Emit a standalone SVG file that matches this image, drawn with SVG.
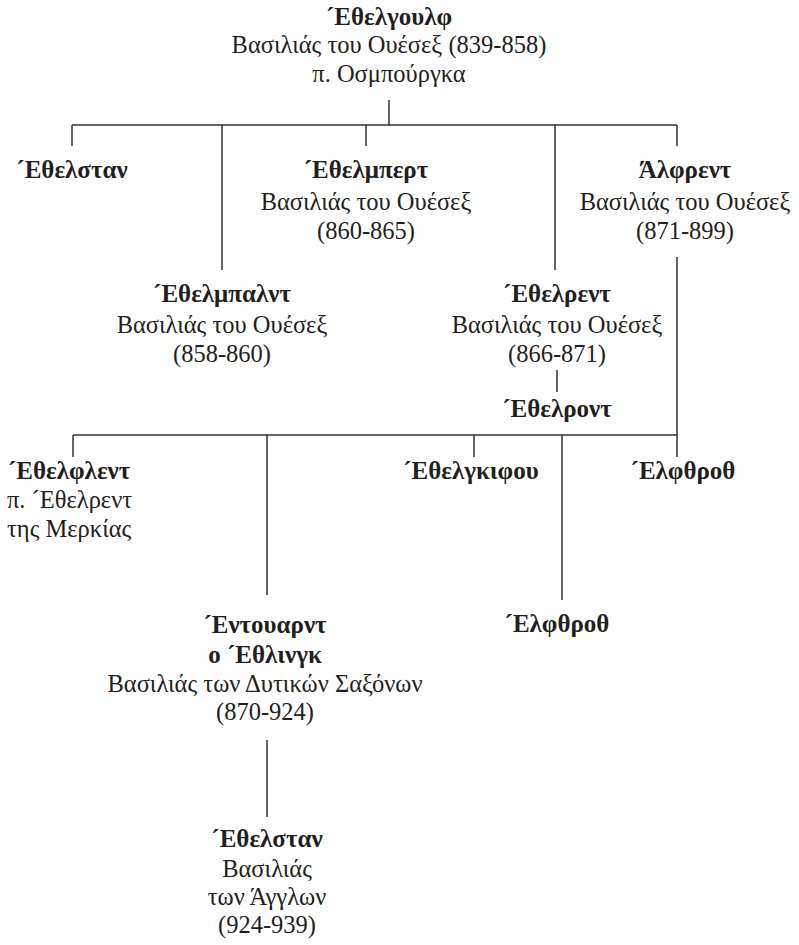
<svg xmlns="http://www.w3.org/2000/svg" width="799" height="945" viewBox="0 0 799 945">
<style>
text{font-family:"Liberation Serif","DejaVu Serif",serif;fill:#231f20;font-size:24.5px}
.b{font-weight:bold;font-size:25px}
.c{text-anchor:middle}
.ln{stroke:#333;stroke-width:1.5;fill:none}
</style>
<rect width="799" height="945" fill="#fff"/>
<g id="connectors" class="ln">
<path d="M389 100V125M72 125H677M72 125V146M222 125V270M366 125V146M555 125V270M677 125V146"/>
<path d="M677 257V457M73 435H677M73 435V457M267 435V595M474 435V457M562 435V600"/>
<path d="M557 370V392"/>
<path d="M267 740V817"/>
</g>
<g id="ethelwulf" class="c"><text class="b" x="389" y="25">´Εθελγουλφ</text><text x="389" y="53">Βασιλιάς του Ουέσεξ (839-858)</text><text x="389" y="82">π. Οσμπούργκα</text></g>
<g id="athelstan1" class="c"><text class="b" x="72" y="178">´Εθελσταν</text></g>
<g id="ethelbert" class="c"><text class="b" x="366" y="178">´Εθελμπερτ</text><text x="366" y="210">Βασιλιάς του Ουέσεξ</text><text x="366" y="239">(860-865)</text></g>
<g id="alfred" class="c"><text class="b" x="685" y="178">Άλφρεντ</text><text x="685" y="210">Βασιλιάς του Ουέσεξ</text><text x="685" y="239">(871-899)</text></g>
<g id="ethelbald" class="c"><text class="b" x="222" y="302">´Εθελμπαλντ</text><text x="222" y="333">Βασιλιάς του Ουέσεξ</text><text x="222" y="362">(858-860)</text></g>
<g id="ethelred" class="c"><text class="b" x="557" y="302">´Εθελρεντ</text><text x="557" y="333">Βασιλιάς του Ουέσεξ</text><text x="557" y="362">(866-871)</text></g>
<g id="ethelhelm" class="c"><text class="b" x="557" y="417">´Εθελροντ</text></g>
<g id="aethelflaed"><text class="b" x="8" y="479">´Εθελφλεντ</text><text x="7" y="508">π. ´Εθελρεντ</text><text x="7" y="537">της Μερκίας</text></g>
<g id="aethelgifu" class="c"><text class="b" x="471" y="479">´Εθελγκιφου</text></g>
<g id="aelfthryth1" class="c"><text class="b" x="683" y="479">´Ελφθροθ</text></g>
<g id="aelfthryth2" class="c"><text class="b" x="557" y="632">´Ελφθροθ</text></g>
<g id="edward" class="c"><text class="b" x="265" y="633">´Εντουαρντ</text><text class="b" x="265" y="663">ο ´Εθλινγκ</text><text x="265" y="692">Βασιλιάς των Δυτικών Σαξόνων</text><text x="265" y="720">(870-924)</text></g>
<g id="athelstan2" class="c"><text class="b" x="267" y="847">´Εθελσταν</text><text x="267" y="877">Βασιλιάς</text><text x="267" y="905">των Άγγλων</text><text x="267" y="933">(924-939)</text></g>
</svg>
